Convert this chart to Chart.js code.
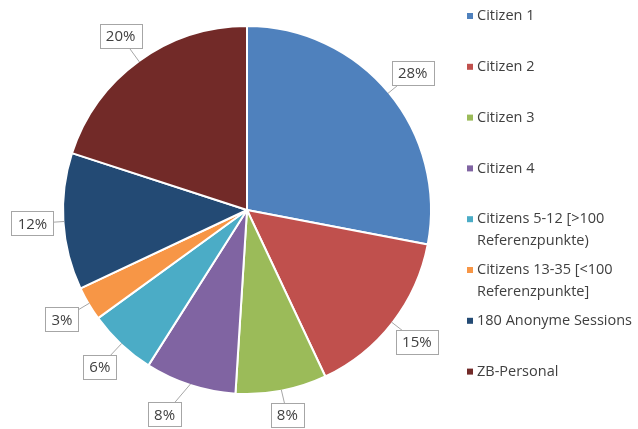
<!DOCTYPE html>
<html>
<head>
<meta charset="utf-8">
<script src="https://cdn.jsdelivr.net/npm/chart.js@4/dist/chart.umd.min.js"></script>
<style>
  html, body { margin: 0; padding: 0; background: #fff; }
  #wrap { position: relative; width: 638px; height: 429px; }
</style>
</head>
<body>
<div id="wrap"><canvas id="chart" width="638" height="429"></canvas></div>
<script>
const categories = [
  'Citizen 1',
  'Citizen 2',
  'Citizen 3',
  'Citizen 4',
  ['Citizens 5-12 [>100', 'Referenzpunkte)'],
  ['Citizens 13-35 [<100', 'Referenzpunkte]'],
  '180 Anonyme Sessions',
  'ZB-Personal'
];
const shares = [28, 15, 8, 8, 6, 3, 12, 20];
const colors = ['#4f81bd', '#c0504d', '#9bbb59', '#8064a2', '#4bacc6', '#f79646', '#234a74', '#722a28'];

const textColor = '#404040';

// percent callouts + legend drawn on canvas
const extras = {
  id: 'extras',
  afterDatasetsDraw(chart) {
    const ctx = chart.ctx;
    const meta = chart.getDatasetMeta(0);
    ctx.save();
    ctx.font = '15px "Open Sans"';
    ctx.textAlign = 'center';
    ctx.textBaseline = 'middle';
    meta.data.forEach((arc, i) => {
      const p = arc.getProps(['x', 'y', 'startAngle', 'endAngle', 'outerRadius'], true);
      const mid = (p.startAngle + p.endAngle) / 2;
      let cx = p.x + Math.cos(mid) * (p.outerRadius + 31);
      let cy = p.y + Math.sin(mid) * (p.outerRadius + 31);
      if (i === 3) cx -= 16; // keep the two 8% callouts apart
      const h = 24;
      cy = Math.min(cy, chart.height - h / 2 - 2);
      const txt = shares[i] + '%';
      const w = Math.round(ctx.measureText(txt).width + 12);
      // pointer
      const ex = p.x + Math.cos(mid) * (p.outerRadius - 1);
      const ey = p.y + Math.sin(mid) * (p.outerRadius - 1);
      ctx.strokeStyle = '#a6a6a6';
      ctx.lineWidth = 1;
      ctx.beginPath();
      ctx.moveTo(cx, cy);
      ctx.lineTo(ex, ey);
      ctx.stroke();
      const bx = Math.round(cx - w / 2) + 0.5, by = Math.round(cy - h / 2) + 0.5;
      ctx.fillStyle = '#fff';
      ctx.fillRect(bx, by, w, h);
      ctx.strokeRect(bx, by, w, h);
      ctx.fillStyle = textColor;
      ctx.fillText(txt, cx, cy + 1);
    });

    // legend
    ctx.font = '14.5px "Open Sans"';
    ctx.textAlign = 'left';
    categories.forEach((lab, i) => {
      const y = 16 + i * 50.8;
      ctx.fillStyle = colors[i];
      ctx.fillRect(467, y - 3, 6, 6);
      ctx.fillStyle = textColor;
      const lines = Array.isArray(lab) ? lab : [lab];
      lines.forEach((ln, j) => ctx.fillText(ln, 477, y + j * 22));
    });
    ctx.restore();
  }
};

new Chart(document.getElementById('chart'), {
  type: 'pie',
  data: {
    labels: categories,
    datasets: [{
      data: shares,
      backgroundColor: colors,
      borderColor: '#ffffff',
      borderWidth: 2
    }]
  },
  options: {
    responsive: false,
    animation: false,
    layout: { padding: { left: 62, top: 25, right: 206, bottom: 34 } },
    plugins: { legend: { display: false }, tooltip: { enabled: false } }
  },
  plugins: [extras]
});
</script>
</body>
</html>
